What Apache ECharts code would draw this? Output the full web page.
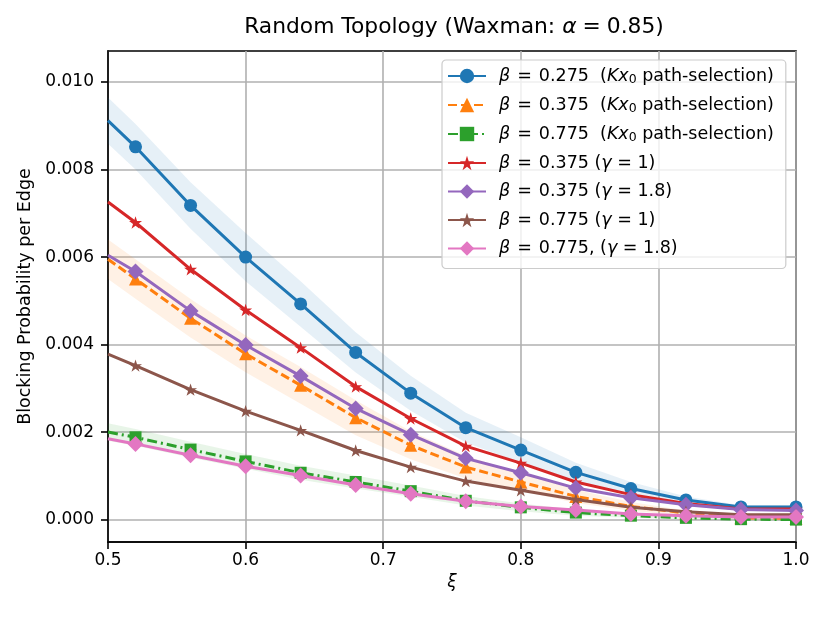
<!DOCTYPE html>
<html>
<head>
<meta charset="utf-8">
<script src="https://cdn.jsdelivr.net/npm/echarts@6/dist/echarts.min.js"></script>
<style>
  html, body { margin: 0; padding: 0; background: #fff; }
  #chart { width: 830px; height: 623px; }
</style>
</head>
<body>
<div id="chart"></div>
<script>
// xi values (markers from 0.52 on, first point drawn without marker)
const xi = [0.50, 0.52, 0.56, 0.60, 0.64, 0.68, 0.72, 0.76, 0.80, 0.84, 0.88, 0.92, 0.96, 1.00];

// blocking probability per edge, in units of 1e-3
const blue275 = [9.12, 8.52, 7.18, 6.00, 4.93, 3.82, 2.89, 2.10, 1.59, 1.08, 0.71, 0.45, 0.29, 0.29];
const blue275Std = [0.53, 0.52, 0.53, 0.55, 0.52, 0.46, 0.40, 0.34, 0.29, 0.22, 0.15, 0.08, 0.04, 0.04];
const orange375 = [5.95, 5.50, 4.60, 3.79, 3.07, 2.33, 1.70, 1.20, 0.86, 0.53, 0.30, 0.15, 0.04, 0.03];
const orange375Std = [0.45, 0.45, 0.44, 0.42, 0.42, 0.40, 0.32, 0.26, 0.20, 0.15, 0.10, 0.06, 0.03, 0.03];
const green775 = [2.00, 1.88, 1.60, 1.33, 1.07, 0.86, 0.65, 0.43, 0.28, 0.16, 0.09, 0.04, 0.01, 0.00];
const green775Std = [0.20, 0.19, 0.18, 0.17, 0.16, 0.15, 0.13, 0.11, 0.09, 0.07, 0.05, 0.04, 0.03, 0.03];
const red375g1 = [7.26, 6.79, 5.72, 4.79, 3.93, 3.04, 2.31, 1.68, 1.29, 0.86, 0.57, 0.37, 0.24, 0.24];
const purple375g18 = [6.04, 5.67, 4.77, 3.99, 3.28, 2.54, 1.94, 1.40, 1.07, 0.72, 0.50, 0.34, 0.23, 0.21];
const brown775g1 = [3.78, 3.52, 2.97, 2.48, 2.04, 1.58, 1.20, 0.88, 0.67, 0.46, 0.28, 0.18, 0.11, 0.11];
const pink775g18 = [1.85, 1.73, 1.47, 1.22, 1.01, 0.79, 0.59, 0.42, 0.30, 0.22, 0.13, 0.09, 0.06, 0.06];

const yTicks = [0, 2, 4, 6, 8, 10];

const FONT = 'DejaVu Sans';
const STAR = 'path://M0,-1L0.2245,-0.309L0.951,-0.309L0.363,0.118L0.588,0.809L0,0.382L-0.588,0.809L-0.363,0.118L-0.951,-0.309L-0.2245,-0.309Z';

const lines = [
  { name: 'b275k', label: '{i|β}{e|=}0.275  ({i|Kx}{s|0} path-selection)', ys: blue275, color: '#1f77b4', symbol: 'circle', size: 13, dash: 'solid' },
  { name: 'b375k', label: '{i|β}{e|=}0.375  ({i|Kx}{s|0} path-selection)', ys: orange375, color: '#ff7f0e', symbol: 'triangle', size: 13, dash: [9, 4] },
  { name: 'b775k', label: '{i|β}{e|=}0.775  ({i|Kx}{s|0} path-selection)', ys: green775, color: '#2ca02c', symbol: 'rect', size: 12, dash: [10, 4, 2, 4] },
  { name: 'b375g1', label: '{i|β}{e|=}0.375 ({i|γ} = 1)', ys: red375g1, color: '#d62728', symbol: STAR, size: 13, dash: 'solid' },
  { name: 'b375g18', label: '{i|β}{e|=}0.375 ({i|γ} = 1.8)', ys: purple375g18, color: '#9467bd', symbol: 'diamond', size: 16, dash: 'solid' },
  { name: 'b775g1', label: '{i|β}{e|=}0.775 ({i|γ} = 1)', ys: brown775g1, color: '#8c564b', symbol: STAR, size: 13, dash: 'solid' },
  { name: 'b775g18', label: '{i|β}{e|=}0.775, ({i|γ} = 1.8)', ys: pink775g18, color: '#e377c2', symbol: 'diamond', size: 16, dash: 'solid' }
];

const bands = [
  { ys: blue275, sd: blue275Std, color: 'rgba(31,119,180,0.11)' },
  { ys: orange375, sd: orange375Std, color: 'rgba(255,127,14,0.11)' },
  { ys: green775, sd: green775Std, color: 'rgba(44,160,44,0.11)' }
];

const labelMap = {};
lines.forEach(l => { labelMap[l.name] = l.label; });

const series = [];
bands.forEach(b => {
  series.push({
    type: 'custom', silent: true, z: 1, clip: true,
    data: xi.map((x, i) => [x, b.ys[i] - b.sd[i], b.ys[i] + b.sd[i]]),
    encode: { x: 0, y: [1, 2] },
    renderItem: (params, api) => {
      if (params.dataIndex !== 0) return null;
      const upper = xi.map((x, i) => api.coord([x, b.ys[i] + b.sd[i]]));
      const lower = xi.map((x, i) => api.coord([x, b.ys[i] - b.sd[i]])).reverse();
      return {
        type: 'polygon',
        shape: { points: upper.concat(lower) },
        style: { fill: b.color, stroke: null }
      };
    }
  });
});
lines.forEach((l, k) => {
  series.push({
    name: l.name, type: 'line',
    data: xi.map((x, i) => i === 0 ? { value: [x, l.ys[i]], symbol: 'none' } : [x, l.ys[i]]),
    symbol: l.symbol, symbolSize: l.size, symbolKeepAspect: true,
    showAllSymbol: true,
    itemStyle: { color: l.color, borderWidth: 0 },
    lineStyle: { color: l.color, width: 3, type: l.dash },
    z: 3 + k
  });
});

const chart = echarts.init(document.getElementById('chart'), null, { renderer: 'canvas' });
chart.setOption({
  animation: false,
  backgroundColor: '#fff',
  title: {
    text: '{t|Random Topology (Waxman: }{ti|α}{e|=}{t|0.85)}',
    left: 449, top: 11, textAlign: 'center',
    textStyle: {
      fontWeight: 'normal',
      rich: {
        t: { fontFamily: FONT, fontSize: 21.8, color: '#000', fontWeight: 'normal' },
        e: { fontFamily: FONT, fontSize: 21.8, color: '#000', fontWeight: 'normal', padding: [0, 6, 0, 6] },
        ti: { fontFamily: FONT, fontSize: 21.8, color: '#000', fontStyle: 'italic', fontWeight: 'normal' }
      }
    }
  },
  grid: { left: 108, right: 34, top: 51, bottom: 81, containLabel: false, outerBoundsMode: 'none',
    show: true, borderColor: '#000', borderWidth: 1.6, backgroundColor: 'transparent' },
  legend: {
    data: lines.map(l => l.name),
    orient: 'vertical', left: 442, top: 60,
    padding: [6, 12, 10, 5],
    itemWidth: 38, itemHeight: 18, itemGap: 8.5,
    backgroundColor: 'rgba(255,255,255,0.8)',
    borderColor: '#cccccc', borderWidth: 1.2, borderRadius: 4,
    formatter: name => '{g|}' + labelMap[name],
    textStyle: {
      fontFamily: FONT, fontSize: 17.5, color: '#000', lineHeight: 20,
      rich: {
        g: { width: 8 },
        e: { fontFamily: FONT, fontSize: 17.5, color: '#000', padding: [0, 7, 0, 7] },
        i: { fontFamily: FONT, fontSize: 17.5, fontStyle: 'italic', color: '#000' },
        s: { fontFamily: FONT, fontSize: 12.5, color: '#000', padding: [8, 0, 0, 0] }
      }
    }
  },
  xAxis: {
    type: 'value', min: 0.5, max: 1.0, interval: 0.1,
    name: 'ξ', nameLocation: 'middle', nameGap: 27,
    nameTextStyle: { fontFamily: FONT, fontSize: 17, fontStyle: 'italic', color: '#000' },
    axisLine: { show: true, onZero: false, lineStyle: { color: '#000', width: 1.6 } },
    axisTick: { show: true, inside: false, length: 7, lineStyle: { color: '#000', width: 1.6 } },
    axisLabel: { fontFamily: FONT, fontSize: 17, color: '#000', margin: 10, formatter: v => v.toFixed(1) },
    splitLine: { show: true, lineStyle: { color: '#b0b0b0', width: 1.6 } }
  },
  yAxis: {
    type: 'value', min: -0.512, max: 10.71,
    name: 'Blocking Probability per Edge', nameLocation: 'middle', nameGap: 64, nameRotate: 90,
    nameTextStyle: { fontFamily: FONT, fontSize: 17.5, color: '#000' },
    axisLine: { show: true, onZero: false, lineStyle: { color: '#000', width: 1.6 } },
    axisTick: { show: true, inside: false, length: 7, customValues: yTicks, lineStyle: { color: '#000', width: 1.6 } },
    axisLabel: { fontFamily: FONT, fontSize: 17, color: '#000', margin: 14, customValues: yTicks,
      formatter: v => (v / 1000).toFixed(3) },
    splitLine: { show: true, lineStyle: { color: '#b0b0b0', width: 1.6 } }
  },
  series: series
});
</script>
</body>
</html>
